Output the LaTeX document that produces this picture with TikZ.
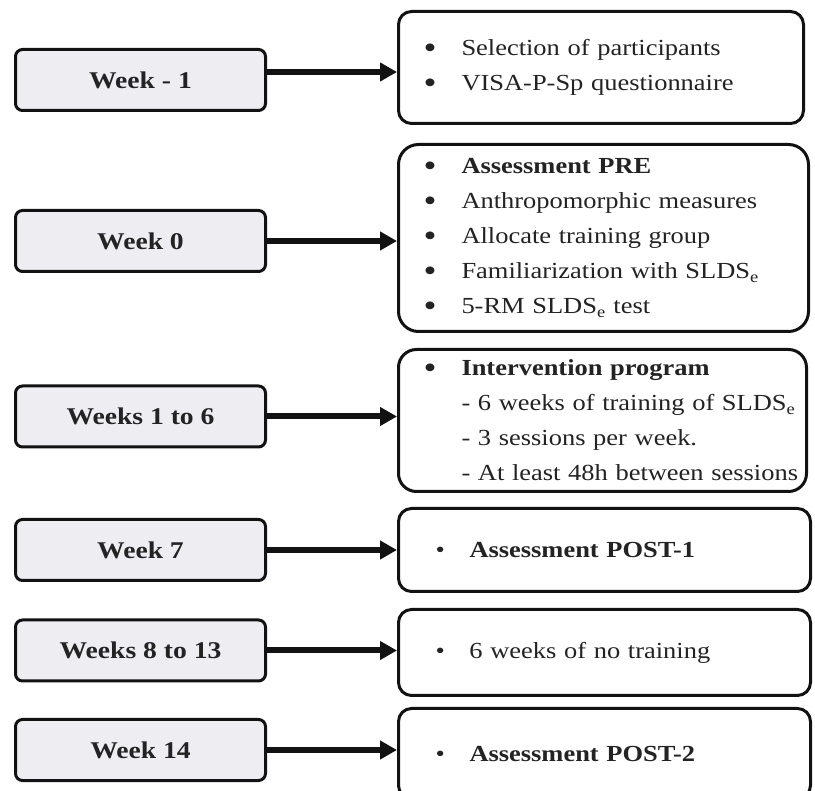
\documentclass[tikz,border=0pt]{standalone}
\usepackage{fontspec}
\setmainfont{Liberation Serif}[FakeStretch=1.15]
\usetikzlibrary{arrows.meta}
\definecolor{lfill}{RGB}{238,237,241}
\definecolor{ink}{RGB}{18,18,18}
\definecolor{txt}{RGB}{35,35,35}
\newcommand{\bit}[1]{\hspace*{25pt}\makebox[38pt][l]{\raisebox{-3pt}{\scalebox{1.4}{\textbullet}}}#1}
\newcommand{\bitb}[1]{\hspace*{37pt}\makebox[34pt][l]{\textbullet}#1}
\newcommand{\dsh}[1]{\hspace*{63pt}#1}
\newcommand{\sbe}{\textsubscript{e}}
\begin{document}
\begin{tikzpicture}[x=1pt,y=-1pt,
  lbox/.style={draw=ink, line width=3pt, fill=lfill, rounded corners=7pt,
    minimum width=250pt, minimum height=61pt, inner sep=0pt,
    font=\fontsize{24}{28}\selectfont\bfseries, text=txt},
  rbox/.style={draw=ink, line width=3pt, fill=white, rounded corners=13pt,
    anchor=west, inner xsep=0pt, inner ysep=0pt, align=left,
    font=\fontsize{23}{35}\selectfont, text=txt},
  conn/.style={draw=ink, line width=6pt, -{Triangle[length=17pt,width=18pt]}}]
\useasboundingbox (0,0) rectangle (815,791);
\clip (0,0) rectangle (815,791);

% left boxes
\node[lbox] (L1) at (140.5,80) {Week - 1};
\node[lbox] (L2) at (140.5,241) {Week 0};
\node[lbox] (L3) at (140.5,416.5) {Weeks 1 to 6};
\node[lbox] (L4) at (140.5,550) {Week 7};
\node[lbox] (L5) at (140.5,650.5) {Weeks 8 to 13};
\node[lbox] (L6) at (140.5,750) {Week 14};

% right boxes
\node[rbox, text width=405pt, minimum height=112pt] (R1) at (397,67.5)
  {\bit{Selection of participants}\\ \bit{VISA-P-Sp questionnaire}};
\node[rbox, rounded corners=20pt, text width=410pt, minimum height=187pt] (R2) at (397,238)
  {\bit{\textbf{Assessment PRE}}\\
   \bit{Anthropomorphic measures}\\
   \bit{Allocate training group}\\
   \bit{Familiarization with SLDS\sbe}\\
   \bit{5-RM SLDS\sbe{} test}};
\node[rbox, rounded corners=18pt, text width=408pt, minimum height=142pt] (R3) at (397,420.5)
  {\bit{\textbf{Intervention program}}\\
   \dsh{- 6 weeks of training of SLDS\sbe}\\
   \dsh{- 3 sessions per week.}\\
   \dsh{- At least 48h between sessions}};
\node[rbox, text width=412pt, minimum height=83pt] (R4) at (397,550)
  {\bitb{\textbf{Assessment POST-1}}};
\node[rbox, text width=412pt, minimum height=86pt] (R5) at (397,652.5)
  {\bitb{6 weeks of no training}};
\node[rbox, text width=412pt, minimum height=90pt] (R6) at (397,753.5)
  {\bitb{\textbf{Assessment POST-2}}};

% connectors
\draw[conn] ([yshift=8pt]L1.east) -- ([yshift=8pt]L1.east -| R1.west);
\draw[conn] (L2.east) -- (L2.east -| R2.west);
\draw[conn] (L3.east) -- (L3.east -| R3.west);
\draw[conn] (L4.east) -- (L4.east -| R4.west);
\draw[conn] (L5.east) -- (L5.east -| R5.west);
\draw[conn] (L6.east) -- (L6.east -| R6.west);
\end{tikzpicture}
\end{document}
